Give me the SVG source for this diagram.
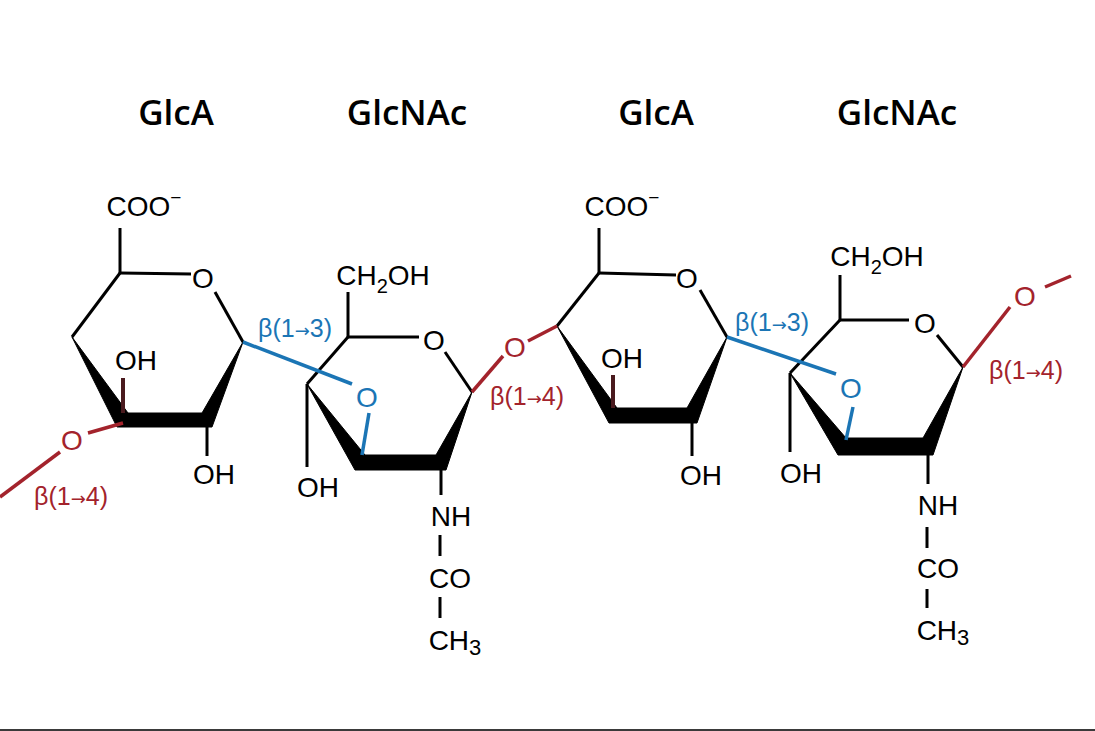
<svg xmlns="http://www.w3.org/2000/svg" width="1095" height="731" viewBox="0 0 1095 731">
<style>
.b{stroke:#000;stroke-width:3;fill:none;stroke-linecap:butt}
.st{stroke:#4a1a1e;stroke-width:4;fill:none}
.w{fill:#000;stroke:#000;stroke-width:1;stroke-linejoin:round}
.t{font-family:"Liberation Sans",Arial,sans-serif;font-size:28px;fill:#000;text-anchor:middle}
.ttl{font-family:"Open Sans","Noto Sans",sans-serif;font-weight:600;font-size:35px;fill:#000;text-anchor:middle}
.red{stroke:#a3232c;stroke-width:3.5;fill:none}
.blue{stroke:#1b75b5;stroke-width:3.5;fill:none}
.rt{font-family:"Liberation Sans",Arial,sans-serif;font-size:25px;fill:#a3232c;text-anchor:middle}
.bt{font-family:"Liberation Sans",Arial,sans-serif;font-size:25px;fill:#1b75b5;text-anchor:middle}
.ar{font-family:"DejaVu Sans",sans-serif;font-size:18px}
.ro{font-family:"Liberation Sans",Arial,sans-serif;font-size:28px;fill:#a3232c;text-anchor:middle}
.bo{font-family:"Liberation Sans",Arial,sans-serif;font-size:28px;fill:#1b75b5;text-anchor:middle}
</style>
<rect width="1095" height="731" fill="#fff"/>

<g id="glca1">
<text class="ttl" x="176" y="125">GlcA</text>
<line class="b" x1="120" y1="273" x2="120" y2="228"/>
<text class="t" x="144" y="216">COO<tspan dy="-12" font-size="19">−</tspan></text>
<line class="b" x1="72" y1="337" x2="120" y2="273"/>
<line class="b" x1="120" y1="273" x2="191" y2="274"/>
<text class="t" x="203" y="288">O</text>
<line class="b" x1="215" y1="292" x2="243" y2="342"/>
<polygon class="w" points="72,337 117,427 212,427 243,342 202,413 128,413"/>
<line class="st" x1="123" y1="413" x2="123" y2="378"/>
<text class="t" x="136" y="370">OH</text>
<line class="b" x1="207" y1="427" x2="207" y2="456"/>
<text class="t" x="214" y="484">OH</text>
</g>

<g id="glcnac1">
<text class="ttl" x="407" y="125">GlcNAc</text>
<text class="t" x="383" y="285">CH<tspan dy="8" font-size="20">2</tspan><tspan dy="-8">OH</tspan></text>
<line class="b" x1="348" y1="292" x2="348" y2="337"/>
<line class="b" x1="307" y1="384" x2="348" y2="337"/>
<line class="b" x1="348" y1="337" x2="419" y2="337"/>
<text class="t" x="434" y="350">O</text>
<line class="b" x1="445" y1="352" x2="472" y2="392"/>
<polygon class="w" points="307,384 355,470 446,470 472,392 436,455 365,455"/>
<line class="b" x1="307" y1="384" x2="307" y2="467"/>
<text class="t" x="318" y="497">OH</text>
<line class="b" x1="441" y1="470" x2="441" y2="495"/>
<text class="t" x="451" y="526">NH</text>
<line class="b" x1="440" y1="535" x2="440" y2="556"/>
<text class="t" x="450" y="588">CO</text>
<line class="b" x1="440" y1="597" x2="440" y2="618"/>
<text class="t" x="455" y="650">CH<tspan dy="5" font-size="22">3</tspan></text>
</g>

<g id="glca2">
<text class="ttl" x="656" y="125">GlcA</text>
<line class="b" x1="599" y1="273" x2="599" y2="228"/>
<text class="t" x="622" y="216">COO<tspan dy="-12" font-size="19">−</tspan></text>
<line class="b" x1="557" y1="326" x2="599" y2="273"/>
<line class="b" x1="599" y1="273" x2="676" y2="275"/>
<text class="t" x="687" y="288">O</text>
<line class="b" x1="700" y1="290" x2="727" y2="337"/>
<polygon class="w" points="557,326 609,423 697,423 727,337 687,408 617,408"/>
<line class="st" x1="613" y1="408" x2="613" y2="375"/>
<text class="t" x="622" y="368">OH</text>
<line class="b" x1="692" y1="423" x2="692" y2="456"/>
<text class="t" x="701" y="485">OH</text>
</g>

<g id="glcnac2">
<text class="ttl" x="897" y="125">GlcNAc</text>
<text class="t" x="877" y="266">CH<tspan dy="8" font-size="20">2</tspan><tspan dy="-8">OH</tspan></text>
<line class="b" x1="840" y1="275" x2="840" y2="320"/>
<line class="b" x1="790" y1="373" x2="840" y2="320"/>
<line class="b" x1="840" y1="320" x2="909" y2="320"/>
<text class="t" x="925" y="333">O</text>
<line class="b" x1="937" y1="335" x2="963" y2="367"/>
<polygon class="w" points="790,373 838,455 933,455 963,367 923,438 846,438"/>
<line class="b" x1="790" y1="373" x2="790" y2="452"/>
<text class="t" x="801" y="483">OH</text>
<line class="b" x1="928" y1="455" x2="928" y2="484"/>
<text class="t" x="938" y="515">NH</text>
<line class="b" x1="927" y1="527" x2="927" y2="548"/>
<text class="t" x="938" y="578">CO</text>
<line class="b" x1="927" y1="589" x2="927" y2="608"/>
<text class="t" x="943" y="640">CH<tspan dy="5" font-size="22">3</tspan></text>
</g>

<g id="connectors">
<line class="red" x1="123" y1="423" x2="88" y2="433"/>
<line class="red" x1="60" y1="452" x2="0" y2="497"/>
<line class="blue" x1="243" y1="342" x2="352" y2="384"/>
<line class="blue" x1="362" y1="455" x2="369" y2="413"/>
<line class="red" x1="472" y1="392" x2="503" y2="356"/>
<line class="red" x1="528" y1="341" x2="557" y2="326"/>
<line class="blue" x1="727" y1="337" x2="836" y2="374"/>
<line class="blue" x1="846" y1="440" x2="853" y2="407"/>
<line class="red" x1="963" y1="367" x2="1010" y2="307"/>
<line class="red" x1="1045" y1="287" x2="1071" y2="276"/>
</g>

<g id="linkage-labels">
<text class="ro" x="72" y="450">O</text>
<text class="rt" x="71" y="505">β(1<tspan class="ar">→</tspan>4)</text>
<text class="bt" x="295" y="337">β(1<tspan class="ar">→</tspan>3)</text>
<text class="bo" x="367" y="407">O</text>
<text class="ro" x="515" y="357">O</text>
<text class="rt" x="527" y="405">β(1<tspan class="ar">→</tspan>4)</text>
<text class="bt" x="772" y="331">β(1<tspan class="ar">→</tspan>3)</text>
<text class="bo" x="851" y="398">O</text>
<text class="ro" x="1025" y="306">O</text>
<text class="rt" x="1026" y="379">β(1<tspan class="ar">→</tspan>4)</text>
</g>

<line x1="0" y1="730" x2="1095" y2="730" stroke="#3a3a3a" stroke-width="2"/>
</svg>
